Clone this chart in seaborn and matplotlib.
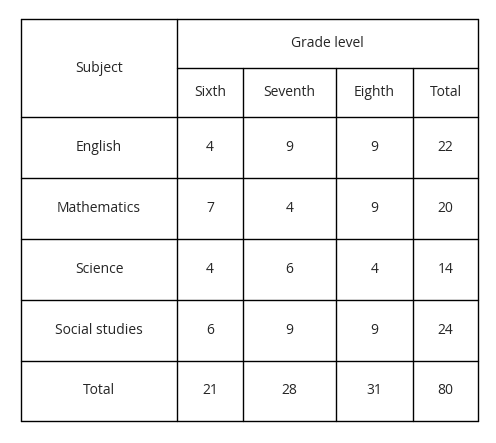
import matplotlib
matplotlib.use("Agg")
import matplotlib.pyplot as plt
import seaborn as sns

subjects = ["English", "Mathematics", "Science", "Social studies"]
grades = ["Sixth", "Seventh", "Eighth"]
counts = [[4, 9, 9], [7, 4, 9], [4, 6, 4], [6, 9, 9]]

row_totals = [sum(r) for r in counts]
col_totals = [sum(c) for c in zip(*counts)]
grand_total = sum(row_totals)

sns.set_style("white")
plt.rcParams["font.family"] = ["Open Sans", "DejaVu Sans"]

fig = plt.figure(figsize=(4.96, 4.43), dpi=100)
ax = fig.add_axes([0, 0, 1, 1])
ax.set_xlim(0, 496)
ax.set_ylim(443, 0)
ax.axis("off")

xs = [21, 177, 243, 336, 413, 478]
ys = [19, 68, 117, 178, 239, 300, 361, 421]
lw = 1.0
k = "black"

# outer box and grid
for x in [xs[0], xs[1], xs[-1]]:
    ax.plot([x, x], [ys[0], ys[-1]], color=k, lw=lw)
for x in xs[2:-1]:
    ax.plot([x, x], [ys[1], ys[-1]], color=k, lw=lw)
ax.plot([xs[0], xs[-1]], [ys[0], ys[0]], color=k, lw=lw)
ax.plot([xs[1], xs[-1]], [ys[1], ys[1]], color=k, lw=lw)
for y in ys[2:]:
    ax.plot([xs[0], xs[-1]], [y, y], color=k, lw=lw)

fs = 10
cx = lambda i: (xs[i] + xs[i + 1]) / 2
cy = lambda j: (ys[j] + ys[j + 1]) / 2

ax.text(cx(0), (ys[0] + ys[2]) / 2, "Subject", ha="center", va="center", fontsize=fs)
ax.text((xs[1] + xs[-1]) / 2, cy(0), "Grade level", ha="center", va="center", fontsize=fs)
for i, g in enumerate(grades + ["Total"]):
    ax.text(cx(i + 1), cy(1), g, ha="center", va="center", fontsize=fs)

rows = [(s, r + [t]) for s, r, t in zip(subjects, counts, row_totals)]
rows.append(("Total", col_totals + [grand_total]))
for j, (name, vals) in enumerate(rows):
    ax.text(cx(0), cy(j + 2), name, ha="center", va="center", fontsize=fs)
    for i, v in enumerate(vals):
        ax.text(cx(i + 1), cy(j + 2), str(v), ha="center", va="center", fontsize=fs)

fig.savefig("out.png", dpi=100, facecolor="white")
